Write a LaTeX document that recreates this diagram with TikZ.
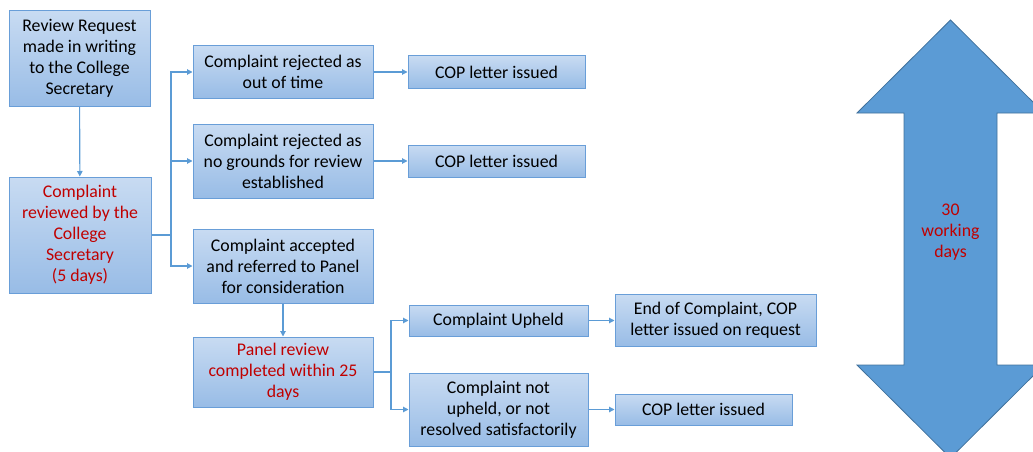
\documentclass[tikz,border=0pt]{standalone}
\usepackage{fontspec}
\setmainfont{Carlito}
\usetikzlibrary{arrows.meta}
\definecolor{boxtop}{RGB}{200,219,242}
\definecolor{boxbot}{RGB}{152,188,230}
\definecolor{boxline}{RGB}{105,158,216}
\definecolor{linkcol}{RGB}{91,155,213}
\definecolor{bigfill}{RGB}{91,155,213}
\definecolor{bigline}{RGB}{65,113,156}
\definecolor{redtext}{RGB}{192,0,0}

\begin{document}
\begin{tikzpicture}[x=1pt,y=-1pt,
  box/.style={draw=boxline, line width=1pt, top color=boxtop, bottom color=boxbot,
    align=center, inner sep=1pt, font=\fontsize{17.8}{21}\selectfont},
  link/.style={draw=linkcol, line width=1.1pt, -{Triangle[width=5.5pt,length=5.5pt]}}]
\useasboundingbox (0,0) rectangle (1033,452);
\clip (0,0) rectangle (1033,452);

% big double arrow
\fill[bigfill, draw=bigline, line width=0.8pt]
  (950.5,20) -- (1044,113) -- (997,113) -- (997,365) -- (1044,365) -- (950.5,458)
  -- (857,365) -- (904,365) -- (904,113) -- (857,113) -- cycle;
\node[text=redtext, align=center, font=\fontsize{17.8}{21}\selectfont] (days) at (950.5,232) {30\\working\\days};

% boxes
\node[box, minimum width=141pt, minimum height=96pt] (req) at (79.5,58.5) {Review Request\\made in writing\\to the College\\Secretary};
\node[box, minimum width=142pt, minimum height=116pt, text=redtext] (rev) at (80,235) {Complaint\\reviewed by the\\College\\Secretary\\(5 days)};
\node[box, minimum width=180pt, minimum height=52pt] (rej1) at (283,72) {Complaint rejected as\\out of time};
\node[box, minimum width=180pt, minimum height=74pt] (rej2) at (283,161) {Complaint rejected as\\no grounds for review\\established};
\node[box, minimum width=180pt, minimum height=74pt] (acc) at (283,266) {Complaint accepted\\and referred to Panel\\for consideration};
\node[box, minimum width=177pt, minimum height=32pt] (cop1) at (496.5,72) {COP letter issued};
\node[box, minimum width=177pt, minimum height=32pt] (cop2) at (496.5,161) {COP letter issued};
\node[box, minimum width=180pt, minimum height=70pt, text=redtext] (panel) at (283,372) {Panel review\\completed within 25\\days};
\node[box, minimum width=179pt, minimum height=31pt] (upheld) at (498.5,320.5) {Complaint Upheld};
\node[box, minimum width=179pt, minimum height=73pt] (notup) at (498.5,409.5) {Complaint not\\upheld, or not\\resolved satisfactorily};
\node[box, minimum width=201pt, minimum height=52pt] (endc) at (715.5,320.5) {End of Complaint, COP\\letter issued on request};
\node[box, minimum width=177pt, minimum height=31pt] (cop3) at (703.5,409.5) {COP letter issued};

% connectors
\coordinate (split1) at (171,235);
\coordinate (split2) at (391,372);
\draw[link] (req) -- (rev);
\draw[link] (rev.east) -- (split1) |- (rej1.west);
\draw[link] (split1) |- (rej2.west);
\draw[link] (split1) |- (acc.west);
\draw[link] (rej1) -- (cop1);
\draw[link] (rej2) -- (cop2);
\draw[link] (acc) -- (panel);
\draw[link] (panel.east) -- (split2) |- (upheld.west);
\draw[link] (split2) |- (notup.west);
\draw[link] (upheld) -- (endc);
\draw[link] (notup) -- (cop3);
\end{tikzpicture}
\end{document}
